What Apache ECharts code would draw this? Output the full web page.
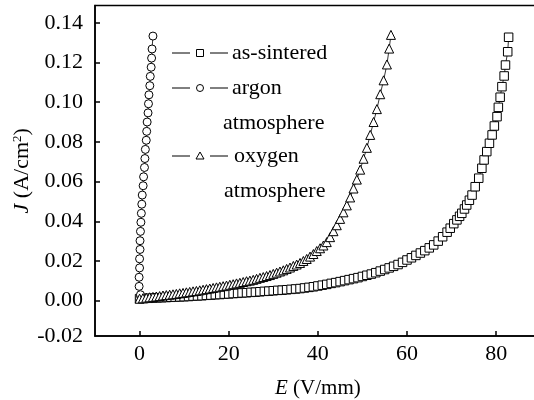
<!DOCTYPE html>
<html><head><meta charset="utf-8">
<script src="https://cdn.jsdelivr.net/npm/echarts@6/dist/echarts.min.js"></script>
<style>html,body{margin:0;padding:0;background:#fff}#c{width:534px;height:400px}</style>
</head><body><div id="c"></div>
<script>
// ---- tick labels ----
const xTickValues = [0, 20, 40, 60, 80];
const yTickValues = [0, 0.02, 0.04, 0.06, 0.08, 0.10, 0.12, 0.14];
const yBottomLabel = '-0.02';
const xRange = [-10, 90];
const yRange = [-0.0178, 0.1487];

// ---- series names ----
const seriesNames = ['as-sintered', 'argon atmosphere', 'oxygen atmosphere'];

// ---- as-sintered (squares) ----
const sinteredE = [0,1,2,3,4,5,6,7,8,9,10,11,12,13,14,15,16,17,18,19,20,21,22,23,24,25,26,27,28,29,30,
  31,32,33,34,35,36,37,38,39,40,41,42,43,44,45,46,47,48,49,50,51,52,53,54,55,56,57,58,59,60,
  61,62,63,64,65,66,67,68,69.0,69.7,70.5,71.2,71.8,72.3,72.9,73.4,74.0,74.6,75.3,76.1,76.8,77.3,77.9,
  78.5,79.1,79.6,80.2,80.5,80.9,81.3,81.8,82.1,82.6,82.8];
const sinteredJ = [0.0010,0.0011,0.0012,0.0013,0.0014,0.0015,0.0016,0.0017,0.0018,0.0019,0.0020,0.0021,0.0023,
  0.0024,0.0025,0.0027,0.0028,0.0030,0.0031,0.0033,0.0034,0.0036,0.0037,0.0039,0.0040,0.0042,0.0043,0.0045,
  0.0047,0.0048,0.0050,0.0052,0.0053,0.0055,0.0057,0.0059,0.0061,0.0064,0.0067,0.0070,0.0074,0.0078,0.0082,
  0.0087,0.0091,0.0096,0.0101,0.0106,0.0111,0.0116,0.0122,0.0128,0.0134,0.0141,0.0149,0.0157,0.0165,0.0173,
  0.0182,0.0193,0.0205,0.0216,0.0228,0.0240,0.0252,0.0266,0.0281,0.0300,0.0322,0.0345,0.0365,0.0388,0.0407,
  0.0425,0.0440,0.0462,0.0482,0.0506,0.0532,0.0574,0.0617,0.0667,0.0709,0.0751,0.0793,0.0835,0.0880,0.0927,
  0.0974,0.1025,0.1078,0.1132,0.1187,0.1254,0.1327];

// ---- argon atmosphere (circles) ----
const argonE = [0.0,0.2,-0.1,-0.1,0.0,0.0,0.1,0.1,0.2,0.3,0.4,0.5,0.6,0.8,0.9,1.1,1.2,1.3,1.5,1.6,1.7,1.9,2.0,
  2.1,2.3,2.4,2.6,2.7,2.8,3.0];
const argonJ = [0.0010,0.0030,0.0072,0.0118,0.0165,0.0211,0.0258,0.0302,0.0349,0.0395,0.0440,0.0486,0.0532,
  0.0579,0.0624,0.0671,0.0716,0.0762,0.0808,0.0853,0.0900,0.0946,0.0992,0.1037,0.1083,0.1130,0.1176,0.1222,
  0.1268,0.1333];

// ---- oxygen atmosphere (triangles) ----
const oxygenE = [0.00,0.75,1.50,2.25,3.00,3.75,4.50,5.25,6.00,6.75,7.50,8.25,9.00,9.75,10.50,11.25,12.00,12.75,
  13.50,14.25,15.00,15.75,16.50,17.25,18.00,18.75,19.50,20.25,21.00,21.75,22.50,23.25,24.00,24.75,25.50,26.25,
  27.00,27.75,28.50,29.25,30.00,30.75,31.50,32.25,33.00,33.75,34.50,35.25,36.00,36.75,37.50,38.25,39.00,39.75,
  40.50,41.25,42.00,42.75,43.50,44.25,45.00,45.75,46.50,47.25,48.00,48.75,49.50,50.25,51.00,51.75,52.50,53.25,
  54.00,54.75,55.50,56.00,56.40];
const oxygenJ = [0.0010,0.0012,0.0015,0.0017,0.0019,0.0021,0.0023,0.0026,0.0028,0.0030,0.0032,0.0034,0.0037,
  0.0039,0.0042,0.0044,0.0047,0.0049,0.0052,0.0055,0.0058,0.0061,0.0064,0.0067,0.0070,0.0073,0.0076,0.0080,
  0.0083,0.0087,0.0090,0.0094,0.0098,0.0101,0.0105,0.0110,0.0115,0.0119,0.0124,0.0129,0.0135,0.0141,0.0147,
  0.0153,0.0160,0.0167,0.0175,0.0182,0.0190,0.0200,0.0210,0.0222,0.0235,0.0250,0.0264,0.0278,0.0295,0.0320,
  0.0350,0.0380,0.0412,0.0445,0.0480,0.0520,0.0565,0.0610,0.0660,0.0715,0.0770,0.0835,0.0900,0.0965,0.1040,
  0.1110,0.1190,0.1270,0.1339];

const zip = (a, b) => a.map((v, i) => [v, b[i]]);
const FONT = '"Liberation Serif","Times New Roman",serif';

function mkSeries(name, symbol, size, E, J) {
  return {
    name, type: 'line', data: zip(E, J), symbol, symbolSize: size, showAllSymbol: true,
    lineStyle: { color: '#000', width: 0.8 },
    itemStyle: { color: '#fff', borderColor: '#000', borderWidth: 1 },
    emphasis: { disabled: true }, animation: false
  };
}

const chart = echarts.init(document.getElementById('c'), null, { renderer: 'canvas' });

const legendRows = [
  { y: 53, sym: 'rect', text: 'as-sintered', tx: 232 },
  { y: 88, sym: 'circle', text: 'argon', tx: 232 },
  { y: 156, sym: 'triangle', text: 'oxygen', tx: 234 }
];
const graphic = [];
legendRows.forEach(r => {
  graphic.push({ type: 'line', shape: { x1: 172, y1: r.y, x2: 190, y2: r.y }, style: { stroke: '#000', lineWidth: 1 } });
  graphic.push({ type: 'line', shape: { x1: 210, y1: r.y, x2: 228, y2: r.y }, style: { stroke: '#000', lineWidth: 1 } });
  if (r.sym === 'rect') graphic.push({ type: 'rect', shape: { x: 196.5, y: r.y - 3.5, width: 7, height: 7 }, style: { fill: '#fff', stroke: '#000', lineWidth: 1 } });
  if (r.sym === 'circle') graphic.push({ type: 'circle', shape: { cx: 200, cy: r.y, r: 3.5 }, style: { fill: '#fff', stroke: '#000', lineWidth: 1 } });
  if (r.sym === 'triangle') graphic.push({ type: 'polygon', shape: { points: [[200, r.y - 4], [196, r.y + 3], [204, r.y + 3]] }, style: { fill: '#fff', stroke: '#000', lineWidth: 1 } });
  graphic.push({ type: 'text', style: { text: r.text, x: r.tx, y: r.y, font: '22px ' + FONT, fill: '#000', verticalAlign: 'middle' } });
});
graphic.push({ type: 'text', style: { text: 'atmosphere', x: 223, y: 123, font: '22px ' + FONT, fill: '#000', verticalAlign: 'middle' } });
graphic.push({ type: 'text', style: { text: 'atmosphere', x: 224, y: 191, font: '22px ' + FONT, fill: '#000', verticalAlign: 'middle' } });

chart.setOption({
  backgroundColor: '#fff',
  animation: false,
  grid: { left: 95, top: 5.5, width: 445.7, height: 330.5, outerBoundsMode: 'none', containLabel: false,
    show: true, borderColor: '#000', borderWidth: 1.5, backgroundColor: 'transparent' },
  xAxis: {
    type: 'value', min: xRange[0], max: xRange[1],
    axisLine: { show: true, onZero: false, lineStyle: { color: '#000', width: 1.5 } },
    axisTick: { show: true, inside: true, length: 5, customValues: xTickValues, lineStyle: { color: '#000', width: 1.5 } },
    axisLabel: { customValues: xTickValues, margin: 7, color: '#000', fontFamily: FONT, fontSize: 22 },
    splitLine: { show: false },
    name: '{i|E} (V/mm)', nameLocation: 'middle', nameGap: 42, nameMoveOverlap: false,
    nameTextStyle: { color: '#000', fontFamily: FONT, fontSize: 21, rich: { i: { fontStyle: 'italic', fontFamily: FONT, fontSize: 21 } } }
  },
  yAxis: {
    type: 'value', min: yRange[0], max: yRange[1],
    axisLine: { show: true, onZero: false, lineStyle: { color: '#000', width: 1.5 } },
    axisTick: { show: true, inside: true, length: 5, customValues: yTickValues, lineStyle: { color: '#000', width: 1.5 } },
    axisLabel: { customValues: [yRange[0]].concat(yTickValues), margin: 12, color: '#000', fontFamily: FONT, fontSize: 22,
      formatter: v => (v < -0.01 ? yBottomLabel : v.toFixed(2)) },
    splitLine: { show: false },
    name: '{i|J} (A/cm{s|2})', nameLocation: 'middle', nameGap: 62, nameMoveOverlap: false,
    nameTextStyle: { color: '#000', fontFamily: FONT, fontSize: 22,
      rich: { i: { fontStyle: 'italic', fontFamily: FONT, fontSize: 22 }, s: { fontFamily: FONT, fontSize: 13, verticalAlign: 'top' } } }
  },
  graphic,
  series: [
    mkSeries(seriesNames[0], 'rect', 8.5, sinteredE, sinteredJ),
    mkSeries(seriesNames[1], 'circle', 8, argonE, argonJ),
    mkSeries(seriesNames[2], 'triangle', 9, oxygenE, oxygenJ)
  ]
});
</script></body></html>
